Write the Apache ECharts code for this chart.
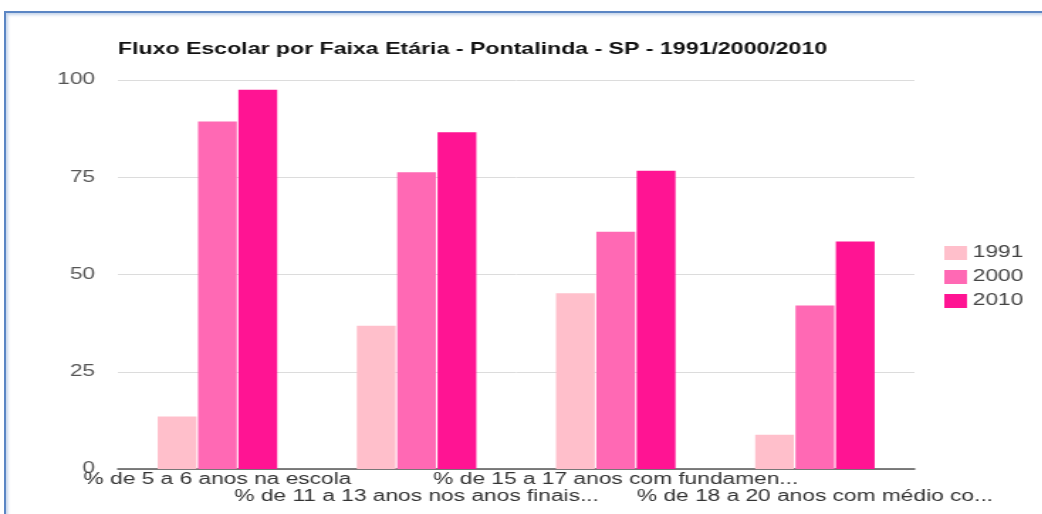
<!DOCTYPE html>
<html>
<head>
<meta charset="utf-8">
<script src="https://cdn.jsdelivr.net/npm/echarts@6/dist/echarts.min.js"></script>
<style>
  html, body { margin: 0; padding: 0; background: #fff; overflow: hidden; }
  .frame {
    position: absolute; left: 4px; top: 11px; width: 1100px; height: 600px;
    border-left: 2px solid #5b86c4; border-top: 2px solid #5b86c4;
    box-shadow: inset 2px 2px 3px rgba(91, 134, 196, 0.35);
  }
  /* the reference is stretched horizontally, so draw narrow and scale x */
  #chart {
    position: absolute; left: 0; top: 0; width: 734px; height: 514px;
    transform: scaleX(1.42); transform-origin: 0 0;
  }
</style>
</head>
<body>
<div class="frame"></div>
<div id="chart"></div>
<script>
const categories = [
  '% de 5 a 6 anos na escola',
  '% de 11 a 13 anos nos anos finais...',
  '% de 15 a 17 anos com fundamen...',
  '% de 18 a 20 anos com médio co...'
]
const years = ['1991', '2000', '2010']
const values1991 = [13.5, 36.8, 45.2, 8.8]
const values2000 = [89.3, 76.3, 61.0, 42.0]
const values2010 = [97.5, 86.6, 76.7, 58.5]
const yTicks = [0, 25, 50, 75, 100]
const colors = ['#ffbfcb', '#ff69b4', '#ff1493']

const chart = echarts.init(document.getElementById('chart'))
const font = 'Liberation Sans, Arial, sans-serif'

const series = [values1991, values2000, values2010].map((data, i) => {
  return {
    type: 'bar',
    name: years[i],
    data: data,
    barGap: '4%',
    barCategoryGap: '40%',
    itemStyle: { color: colors[i] }
  }
})

chart.setOption({
  animation: false,
  color: colors,
  textStyle: { fontFamily: font },
  title: {
    text: 'Fluxo Escolar por Faixa Etária - Pontalinda - SP - 1991/2000/2010',
    left: 78,
    top: 37,
    textStyle: { fontSize: 16.3, fontWeight: 'bold', color: '#111', fontFamily: font }
  },
  grid: {
    left: 83,
    right: 90,
    top: 80,
    bottom: 45
  },
  legend: {
    orient: 'vertical',
    left: 660,
    top: 240,
    itemWidth: 16,
    itemHeight: 14,
    itemGap: 8,
    icon: 'rect',
    textStyle: { fontSize: 16, color: '#444', fontFamily: font, padding: [0, 0, 0, -1] }
  },
  xAxis: {
    type: 'category',
    data: categories,
    axisLine: { lineStyle: { color: '#555', width: 1.5 } },
    axisTick: { show: false },
    axisLabel: {
      interval: 0,
      margin: 2,
      fontSize: 16,
      lineHeight: 17,
      color: '#333',
      hideOverlap: false,
      formatter: (val, idx) => (idx % 2 ? '\n' + val : val)
    }
  },
  yAxis: {
    type: 'value',
    min: yTicks[0],
    max: yTicks[yTicks.length - 1],
    interval: 25,
    axisLine: { show: false },
    axisTick: { show: false },
    axisLabel: { fontSize: 16, color: '#555', margin: 16 },
    splitLine: { lineStyle: { color: '#dcdcdc' } }
  },
  series: series
})
</script>
</body>
</html>
